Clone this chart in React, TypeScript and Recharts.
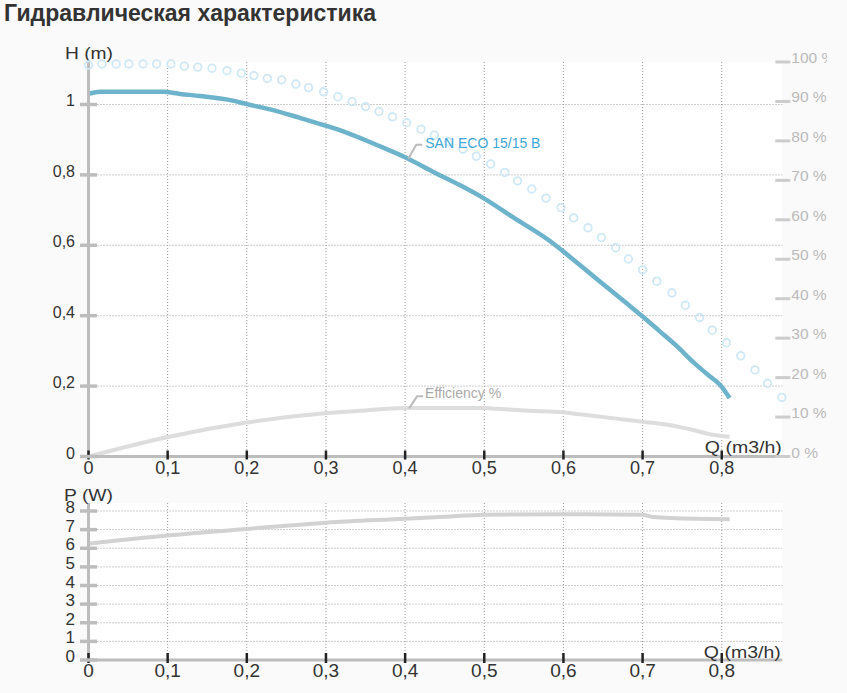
import React from 'react';
import { LineChart, Line, XAxis, YAxis, CartesianGrid, ReferenceDot } from 'recharts';

// ---------- data ----------
const qTicks = [0, 0.1, 0.2, 0.3, 0.4, 0.5, 0.6, 0.7, 0.8];
const hTicks = [0, 0.2, 0.4, 0.6, 0.8, 1];
const pctTicks = [0, 10, 20, 30, 40, 50, 60, 70, 80, 90, 100];
const pTicks = [0, 1, 2, 3, 4, 5, 6, 7, 8];

// SAN ECO 15/15 B head curve
const curveQ = [0, 0.015, 0.094, 0.116, 0.141, 0.182, 0.2, 0.233, 0.267, 0.298, 0.326, 0.364, 0.4, 0.435, 0.469, 0.499, 0.536, 0.583, 0.6, 0.625, 0.646, 0.667, 0.688, 0.7, 0.721, 0.743, 0.764, 0.781, 0.8, 0.81];
const curveH = [1.03, 1.036, 1.036, 1.03, 1.024, 1.011, 1.001, 0.984, 0.962, 0.941, 0.92, 0.885, 0.85, 0.809, 0.771, 0.734, 0.68, 0.612, 0.582, 0.536, 0.497, 0.459, 0.42, 0.398, 0.357, 0.314, 0.268, 0.235, 0.198, 0.166];

// dotted (maximum) curve
const dotQ = [0, 0.017, 0.035, 0.051, 0.069, 0.086, 0.104, 0.121, 0.138, 0.156, 0.175, 0.193, 0.209, 0.226, 0.244, 0.262, 0.278, 0.297, 0.315, 0.333, 0.35, 0.367, 0.384, 0.402, 0.42, 0.437, 0.455, 0.473, 0.49, 0.508, 0.526, 0.542, 0.56, 0.578, 0.597, 0.613, 0.631, 0.648, 0.666, 0.682, 0.7, 0.718, 0.737, 0.754, 0.772, 0.788, 0.806, 0.824, 0.842, 0.858, 0.876];
const dotH = [1.112, 1.115, 1.115, 1.115, 1.115, 1.115, 1.115, 1.109, 1.106, 1.103, 1.096, 1.089, 1.082, 1.074, 1.07, 1.058, 1.048, 1.036, 1.022, 1.008, 0.994, 0.98, 0.965, 0.948, 0.93, 0.913, 0.894, 0.873, 0.853, 0.831, 0.807, 0.783, 0.76, 0.734, 0.707, 0.678, 0.65, 0.622, 0.593, 0.561, 0.53, 0.498, 0.465, 0.43, 0.395, 0.359, 0.323, 0.286, 0.246, 0.208, 0.168];

// efficiency %
const effQ = [0, 0.099, 0.2, 0.301, 0.343, 0.4, 0.501, 0.515, 0.557, 0.599, 0.621, 0.7, 0.734, 0.764, 0.789, 0.81];
const effVal = [0, 4.9, 8.6, 11.0, 11.6, 12.3, 12.3, 12.1, 11.6, 11.2, 10.7, 8.8, 8.0, 6.7, 5.5, 5.0];

// power W
const powQ = [0, 0.099, 0.2, 0.267, 0.3, 0.4, 0.45, 0.5, 0.6, 0.7, 0.713, 0.768, 0.81];
const powVal = [6.24, 6.68, 7.04, 7.26, 7.37, 7.58, 7.69, 7.8, 7.83, 7.8, 7.68, 7.58, 7.56];

const curveData = curveQ.map((q, i) => ({ q, h: curveH[i] }));
const dotData = dotQ.map((q, i) => ({ q, h: dotH[i] }));
const effData = effQ.map((q, i) => ({ q, e: effVal[i] }));
const powData = powQ.map((q, i) => ({ q, p: powVal[i] }));

// ---------- styles ----------
const FONT = '"Liberation Sans", Arial, sans-serif';
const TEXT = '#333333';
const AXIS = '#bdbdbd';
const X_DOMAIN: [number, number] = [0, 0.8765];

const fmt = (v: number) => String(v).replace('.', ',');

const LeftTick = (props: any) => {
  const { x, y, payload, fs } = props;
  return (
    <g>
      <line x1={x - 8.5} x2={x + 8.5} y1={y} y2={y} stroke={AXIS} strokeWidth={3.5} />
      <text x={x - 13.5} y={y + 2} textAnchor="end" fontSize={fs || 16} fill={TEXT} fontFamily={FONT}>
        {fmt(payload.value)}
      </text>
    </g>
  );
};

const RightTick = (props: any) => {
  const { x, y, payload } = props;
  return (
    <g>
      <line x1={x - 7} x2={x + 8} y1={y} y2={y} stroke="#cccccc" strokeWidth={3} />
      <text x={x + 9} y={y + 1} textAnchor="start" fontSize={15.5} fill="#bbbbbb" fontFamily={FONT}>
        {`${payload.value} %`}
      </text>
    </g>
  );
};

const BottomTick = (props: any) => {
  const { x, y, payload, fs, up } = props;
  return (
    <g>
      <line x1={x} x2={x} y1={y - (up || 6)} y2={y + 3} stroke="#222222" strokeWidth={2.5} />
      <text x={x} y={y + 17} textAnchor="middle" fontSize={fs || 18} fill={TEXT} fontFamily={FONT}>
        {fmt(payload.value)}
      </text>
    </g>
  );
};

const Annot = (props: any) => {
  const { cx, cy, text, color, dx, dy, hy } = props;
  return (
    <g>
      <path
        d={`M${cx},${cy} L${cx + 8},${cy - hy} L${cx + 14},${cy - hy}`}
        stroke="#bbbbbb"
        strokeWidth={2}
        fill="none"
      />
      <text x={cx + dx} y={cy - dy} fontSize={14} fill={color} fontFamily={FONT}>
        {text}
      </text>
    </g>
  );
};

export default function App() {
  return (
    <div
      style={{
        position: 'absolute',
        left: 0,
        top: 0,
        width: 847,
        height: 693,
        background: '#fafafa',
        overflow: 'hidden',
      }}
    >
      <svg width={847} height={30} style={{ position: 'absolute', left: 0, top: 0 }}>
        <text x={4} y={21} fontSize={23} fontWeight="bold" fill={TEXT} fontFamily={FONT}>
          Гидравлическая характеристика
        </text>
      </svg>

      {/* Head / efficiency chart */}
      <div style={{ position: 'absolute', left: 0, top: 0, width: 827, height: 480, overflow: 'hidden' }}>
        <LineChart width={827} height={480} margin={{ top: 62, right: 0, left: 0, bottom: 0 }}>
          <CartesianGrid
            yAxisId="h"
            fill="#ffffff"
            stroke="#9a9a9a"
            strokeDasharray="1 2"
            verticalValues={qTicks.slice(1)}
            horizontalValues={hTicks.slice(1)}
          />
          <XAxis
            type="number"
            dataKey="q"
            domain={X_DOMAIN}
            ticks={qTicks}
            height={23.5}
            tickSize={0}
            tickMargin={0}
            tickLine={false}
            axisLine={{ stroke: AXIS, strokeWidth: 3 }}
            tick={<BottomTick fs={18} up={6} />}
            interval={0}
            label={{
              content: (p: any) => {
                const vb = p.viewBox || {};
                return (
                  <text
                    x={vb.x + vb.width - 77.5}
                    y={vb.y - 3.5}
                    fontSize={17}
                    textLength={77}
                    lengthAdjust="spacingAndGlyphs"
                    fill={TEXT}
                    fontFamily={FONT}
                  >
                    Q (m3/h)
                  </text>
                );
              },
            }}
          />
          <YAxis
            yAxisId="h"
            type="number"
            domain={[0, 1.1207]}
            ticks={hTicks}
            width={88.5}
            tickSize={0}
            tickMargin={0}
            tickLine={false}
            axisLine={{ stroke: AXIS, strokeWidth: 3 }}
            tick={<LeftTick fs={16} />}
            interval={0}
            label={{
              content: (p: any) => {
                const vb = p.viewBox || {};
                return (
                  <text
                    x={vb.x + vb.width - 23.5}
                    y={vb.y - 3.5}
                    fontSize={17}
                    textLength={48}
                    lengthAdjust="spacingAndGlyphs"
                    fill={TEXT}
                    fontFamily={FONT}
                  >
                    H (m)
                  </text>
                );
              },
            }}
          />
          <YAxis
            yAxisId="pct"
            orientation="right"
            type="number"
            domain={[0, 100]}
            ticks={pctTicks}
            width={44.7}
            tickSize={0}
            tickMargin={0}
            tickLine={false}
            axisLine={false}
            tick={<RightTick />}
            interval={0}
          />
          <Line
            yAxisId="pct"
            data={effData}
            dataKey="e"
            type="monotone"
            stroke="#dddddd"
            strokeWidth={4}
            dot={false}
            isAnimationActive={false}
          />
          <Line
            yAxisId="h"
            data={dotData}
            dataKey="h"
            stroke="none"
            dot={{ r: 3.8, stroke: '#cfe8f5', strokeWidth: 1.8, fill: 'none' }}
            activeDot={false}
            isAnimationActive={false}
          />
          <Line
            yAxisId="h"
            data={curveData}
            dataKey="h"
            type="monotone"
            stroke="#6cb3cb"
            strokeWidth={4.5}
            dot={false}
            isAnimationActive={false}
          />
          <ReferenceDot
            yAxisId="h"
            x={0.404}
            y={0.846}
            r={0}
            shape={(p: any) => (
              <Annot {...p} text="SAN ECO 15/15 B" color="#3ea6d6" dx={17} dy={11} hy={14} />
            )}
          />
          <ReferenceDot
            yAxisId="pct"
            x={0.405}
            y={12.2}
            r={0}
            shape={(p: any) => (
              <Annot {...p} text="Efficiency %" color="#aaaaaa" dx={16} dy={10} hy={12} />
            )}
          />
        </LineChart>
      </div>

      {/* Power chart */}
      <div style={{ position: 'absolute', left: 0, top: 480, width: 827, height: 213, overflow: 'hidden' }}>
        <LineChart width={827} height={213} margin={{ top: 23, right: 44.7, left: 0, bottom: 0 }}>
          <CartesianGrid
            yAxisId="p"
            fill="#ffffff"
            stroke="#9a9a9a"
            strokeDasharray="1 2"
            verticalValues={qTicks.slice(1)}
            horizontalValues={pTicks.slice(1)}
          />
          <XAxis
            type="number"
            dataKey="q"
            domain={X_DOMAIN}
            ticks={qTicks}
            height={33}
            tickSize={0}
            tickMargin={0}
            tickLine={false}
            axisLine={{ stroke: AXIS, strokeWidth: 3 }}
            tick={<BottomTick fs={19} up={7} />}
            interval={0}
            label={{
              content: (p: any) => {
                const vb = p.viewBox || {};
                return (
                  <text
                    x={vb.x + vb.width - 78.5}
                    y={vb.y - 2}
                    fontSize={17}
                    textLength={77}
                    lengthAdjust="spacingAndGlyphs"
                    fill={TEXT}
                    fontFamily={FONT}
                  >
                    Q (m3/h)
                  </text>
                );
              },
            }}
          />
          <YAxis
            yAxisId="p"
            type="number"
            domain={[0, 8.43]}
            ticks={pTicks}
            width={88.5}
            tickSize={0}
            tickMargin={0}
            tickLine={false}
            axisLine={{ stroke: AXIS, strokeWidth: 3 }}
            tick={<LeftTick fs={17} />}
            interval={0}
            label={{
              content: (p: any) => {
                const vb = p.viewBox || {};
                return (
                  <text
                    x={vb.x + vb.width - 24.5}
                    y={vb.y - 2}
                    fontSize={17}
                    textLength={49}
                    lengthAdjust="spacingAndGlyphs"
                    fill={TEXT}
                    fontFamily={FONT}
                  >
                    P (W)
                  </text>
                );
              },
            }}
          />
          <Line
            yAxisId="p"
            data={powData}
            dataKey="p"
            type="monotone"
            stroke="#d2d2d2"
            strokeWidth={4}
            dot={false}
            isAnimationActive={false}
          />
        </LineChart>
      </div>
    </div>
  );
}
